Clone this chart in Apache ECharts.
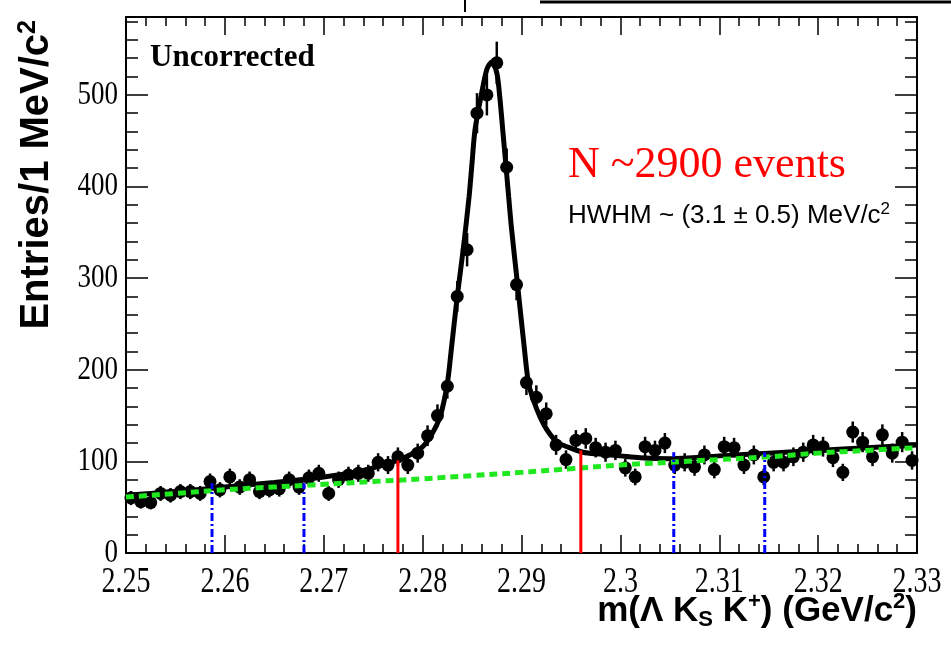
<!DOCTYPE html>
<html><head><meta charset="utf-8">
<script src="https://cdn.jsdelivr.net/npm/echarts@6/dist/echarts.min.js"></script>
<style>html,body{margin:0;padding:0;background:#fff}#c{width:951px;height:648px}</style>
</head><body><div id="c"></div>
<script>
// histogram binning
const binLow = 2.25, binWidth = 0.001;
// entries per 1 MeV bin
const counts = [60,56,55,65,63,67,67,65,78,69,83,72,80,67,69,70,80,72,82,87,
  65,80,85,87,87,99,96,105,96,109,128,150,182,280,331,480,500,535,421,293,
  186,170,152,118,102,123,125,115,110,112,93,83,116,112,120,96,99,94,107,91,
  116,115,96,107,83,99,99,105,110,118,116,104,88,132,121,105,129,109,121,101];
// statistical error per bin
const errors = [7.7,7.5,7.4,8.1,7.9,8.2,8.2,8.1,8.8,8.3,9.1,8.5,8.9,8.2,8.3,8.4,8.9,8.5,9.1,9.3,
  8.1,8.9,9.2,9.3,9.3,9.9,9.8,10.2,9.8,10.4,11.3,12.2,13.5,16.7,18.2,21.9,22.4,23.1,20.5,17.1,
  13.6,13.0,12.3,10.9,10.1,11.1,11.2,10.7,10.5,10.6,9.6,9.1,10.8,10.6,11.0,9.8,9.9,9.7,10.3,9.5,
  10.8,10.7,9.8,10.3,9.1,9.9,9.9,10.2,10.5,10.9,10.8,10.2,9.4,11.5,11.0,10.2,11.4,10.4,11.0,10.0];
// total fit curve
const fitX = [2.2500,2.2550,2.2600,2.2650,2.2700,2.2730,2.2750,2.2777,2.2787,2.2800,2.2810,2.2818,2.2825,2.2829,2.2835,2.2841,2.2847,2.2850,2.2853,2.2859,2.2865,2.2870,2.2875,2.2878,2.2881,2.2884,2.2887,2.2890,2.2896,2.2903,2.2907,2.2912,2.2919,2.2926,2.2936,2.2946,2.2962,2.2980,2.3000,2.3020,2.3050,2.3100,2.3150,2.3200,2.3250,2.3300];
const fitY = [63,67,72,77,83,88,93,102,107,116,131,150,185,222,280,331,389,426,462,498,528,536,524,498,462,426,389,353,293,222,186,167,148,134,121,116,110,108,106,104,103,106,109,112,115,118];
// background curve
const bgX = [2.250,2.255,2.260,2.265,2.270,2.275,2.280,2.285,2.290,2.295,2.300,2.305,2.310,2.315,2.320,2.325,2.330];
const bgY = [61,65,69,72,75,78,81,84.5,88,92,96,99,102,105,109,112,115];
// sideband and signal window lines
const sideX = [2.2587,2.2680,2.3054,2.3146];
const sideTop = [76,76,110,110];
const sigX = [2.2775,2.2960];
const sigTop = [101,112];
// tick labels
const xTicks = [2.25,2.26,2.27,2.28,2.29,2.30,2.31,2.32,2.33];
const xTickLabels = ['2.25','2.26','2.27','2.28','2.29','2.3','2.31','2.32','2.33'];
const yTicks = [0,100,200,300,400,500];
const yTickLabels = ['0','100','200','300','400','500'];

const chart = echarts.init(document.getElementById('c'), null, {renderer:'canvas'});
const axisCommon = {
  axisLine:{show:true,onZero:false,lineStyle:{color:'#000',width:2}},
  splitLine:{show:false}, axisLabel:{show:false}
};
const xAxisBase = Object.assign({type:'value',min:2.25,max:2.33,interval:0.01,
  axisTick:{show:true,inside:true,length:18,lineStyle:{color:'#000',width:1.5}},
  minorTick:{show:true,splitNumber:5,length:9,lineStyle:{color:'#000',width:1.5}}}, axisCommon);
const yAxisBase = Object.assign({type:'value',min:0,max:585,interval:100,
  axisTick:{show:true,inside:true,length:22,lineStyle:{color:'#000',width:1.5}},
  minorTick:{show:true,splitNumber:5,length:12,lineStyle:{color:'#000',width:1.5}}}, axisCommon);

const pts = counts.map((c,i)=>[binLow + binWidth*(i+0.5), c, errors[i]]);

const option = {
  animation:false,
  backgroundColor:'#fff',
  grid:{left:126,top:17,width:791,height:536,containLabel:false},
  xAxis:[Object.assign({position:'bottom'},xAxisBase),Object.assign({position:'top'},xAxisBase)],
  yAxis:[Object.assign({position:'left'},yAxisBase),Object.assign({position:'right'},yAxisBase)],
  series:[
    {type:'custom', name:'data', data:pts, encode:{x:0,y:1}, z:2, silent:true,
     renderItem:function(params, api){
       const x=api.value(0), y=api.value(1), e=api.value(2);
       const p=api.coord([x,y]), lo=api.coord([x,y-e]), hi=api.coord([x,y+e]);
       return {type:'group',children:[
         {type:'line',shape:{x1:p[0],y1:lo[1],x2:p[0],y2:hi[1]},style:{stroke:'#000',lineWidth:2.5}},
         {type:'circle',shape:{cx:p[0],cy:p[1],r:6.5},style:{fill:'#000'}}
       ]};
     }},
    {type:'line', name:'fit', data:fitX.map((x,i)=>[x,fitY[i]]), showSymbol:false, smooth:0.3, z:3, silent:true,
     lineStyle:{color:'#000',width:5}},
    {type:'line', name:'bg', data:bgX.map((x,i)=>[x,bgY[i]]), showSymbol:false, smooth:true, z:4, silent:true,
     lineStyle:{color:'#1fe81f',width:5,type:[8,5]}},
    {type:'custom', name:'side', data:sideX.map((x,i)=>[x,sideTop[i]]), encode:{x:0,y:1}, z:5, silent:true,
     renderItem:function(params, api){
       const a=api.coord([api.value(0),0]), b=api.coord([api.value(0),api.value(1)]);
       return {type:'line',shape:{x1:a[0],y1:a[1],x2:b[0],y2:b[1]},style:{stroke:'#0000ff',lineWidth:3,lineDash:[8,3,2,3]}};
     }},
    {type:'custom', name:'sig', data:sigX.map((x,i)=>[x,sigTop[i]]), encode:{x:0,y:1}, z:5, silent:true,
     renderItem:function(params, api){
       const a=api.coord([api.value(0),0]), b=api.coord([api.value(0),api.value(1)]);
       return {type:'line',shape:{x1:a[0],y1:a[1],x2:b[0],y2:b[1]},style:{stroke:'#ff0000',lineWidth:3}};
     }},
    {type:'custom', name:'xlabels', data:xTicks.map(v=>[v,0]), encode:{x:0,y:1}, clip:false, z:6, silent:true,
     renderItem:function(params, api){
       const p=api.coord([api.value(0),0]);
       return {type:'text',x:p[0],y:p[1]+11,scaleY:1.3,
         style:{text:xTickLabels[params.dataIndex],fill:'#000',font:'28px "Liberation Serif"',align:'center',verticalAlign:'top'}};
     }},
    {type:'custom', name:'ylabels', data:yTicks.map(v=>[2.25,v]), encode:{x:0,y:1}, clip:false, z:6, silent:true,
     renderItem:function(params, api){
       const p=api.coord([2.25,api.value(1)]);
       return {type:'text',x:p[0]-8,y:p[1],scaleY:1.25,
         style:{text:yTickLabels[params.dataIndex],fill:'#000',font:'27px "Liberation Serif"',align:'right',verticalAlign:'middle'}};
     }}
  ],
  graphic:[
    {type:'text',x:150,y:58,style:{text:'Uncorrected',fill:'#000',font:'bold 31px "Liberation Serif"',align:'left',verticalAlign:'middle'}},
    {type:'text',x:568,y:165,style:{text:'N ~2900 events',fill:'#ff0000',font:'44px "Liberation Serif"',align:'left',verticalAlign:'middle'}},
    {type:'text',x:568,y:216,style:{text:'{t|HWHM ~ (3.1 ± 0.5) MeV/c}{s|2}',align:'left',verticalAlign:'middle',
      rich:{t:{fill:'#000',font:'26px "Liberation Sans"',lineHeight:30},s:{fill:'#000',font:'17px "Liberation Sans"',verticalAlign:'top',lineHeight:14}}}},
    {type:'text',x:37,y:20,rotation:Math.PI/2,style:{text:'{t|Entries/1 MeV/c}{s|2}',align:'right',verticalAlign:'middle',
      rich:{t:{fill:'#000',font:'bold 40px "Liberation Sans"',lineHeight:42},s:{fill:'#000',font:'bold 25px "Liberation Sans"',verticalAlign:'top',lineHeight:20}}}},
    {type:'text',x:917,y:611,style:{text:'{t|m(Λ K}{b|S}{t| K}{s|+}{t|) (GeV/c}{s|2}{t|)}',align:'right',verticalAlign:'middle',
      rich:{t:{fill:'#000',font:'bold 35px "Liberation Sans"',lineHeight:40},
            s:{fill:'#000',font:'bold 22px "Liberation Sans"',verticalAlign:'top',lineHeight:18},
            b:{fill:'#000',font:'bold 22px "Liberation Sans"',verticalAlign:'bottom',lineHeight:16}}}},
    {type:'line',shape:{x1:465,y1:0,x2:465,y2:12},style:{stroke:'#000',lineWidth:2}},
    {type:'line',shape:{x1:540,y1:2,x2:951,y2:2},style:{stroke:'#000',lineWidth:3}}
  ]
};
chart.setOption(option);
</script>
</body></html>
